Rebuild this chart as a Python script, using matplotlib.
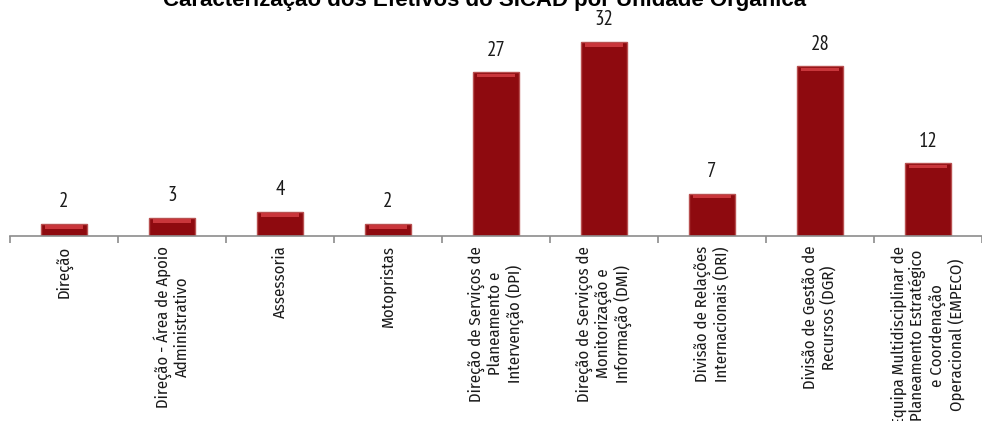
import matplotlib.pyplot as plt

categories = [
    "Direção",
    "Direção - Área de Apoio\nAdministrativo",
    "Assessoria",
    "Motopristas",
    "Direção de Serviços de\nPlaneamento e\nIntervenção (DPI)",
    "Direção de Serviços de\nMonitorização e\nInformação (DMI)",
    "Divisão de Relações\nInternacionais (DRI)",
    "Divisão de Gestão de\nRecursos (DGR)",
    "Equipa Multidisciplinar de\nPlaneamento Estratégico\ne Coordenação\nOperacional (EMPECO)",
]
values = [2, 3, 4, 2, 27, 32, 7, 28, 12]

plt.rcParams["font.family"] = ["Liberation Sans", "DejaVu Sans"]

fig = plt.figure(figsize=(9.82, 4.21), dpi=100)
ax = fig.add_axes([10 / 982, 185 / 421, 972 / 982, 236 / 421])

x = list(range(len(values)))
# bevelled dark red bars: body, then a lighter band along the top
ax.bar(x, values, width=0.435, color="#8e0a0f", edgecolor="#b85050", linewidth=1.0, zorder=2)
band = 0.55
ax.bar(x, [band] * len(values), bottom=[v - band - 0.25 for v in values], width=0.36,
       color="#c9363b", linewidth=0, zorder=3)
for xi, v in zip(x, values):
    ax.annotate(str(v), (xi, v), xytext=(0, 9), textcoords="offset points",
                ha="center", va="bottom", fontsize=15, color="#1a1a1a",
                family=["PT Sans Narrow", "Liberation Sans"])

ax.set_xlim(-0.5, len(values) - 0.5)
ax.set_ylim(0, 38.9)
ax.set_yticks([])
for s in ["top", "right", "left"]:
    ax.spines[s].set_visible(False)
ax.spines["bottom"].set_color("#8c8c8c")
ax.spines["bottom"].set_linewidth(1.2)

ax.set_xticks([i - 0.5 for i in range(len(values) + 1)])
ax.set_xticklabels([])
ax.tick_params(axis="x", length=5, color="#8c8c8c", width=1.2)
for xi, lab in zip(x, categories):
    ax.text(xi, -1.6, lab, rotation=90, ha="center", va="top", multialignment="center",
            fontsize=12, linespacing=1.15, color="#1a1a1a",
            family=["Fira Sans Condensed", "Liberation Sans"])

fig.text(0.493, 1 - 6 / 421, "Caracterização dos Efetivos do SICAD por Unidade Orgânica",
         ha="center", va="baseline", fontsize=16, fontweight="bold")

fig.savefig("out.png", dpi=100)
